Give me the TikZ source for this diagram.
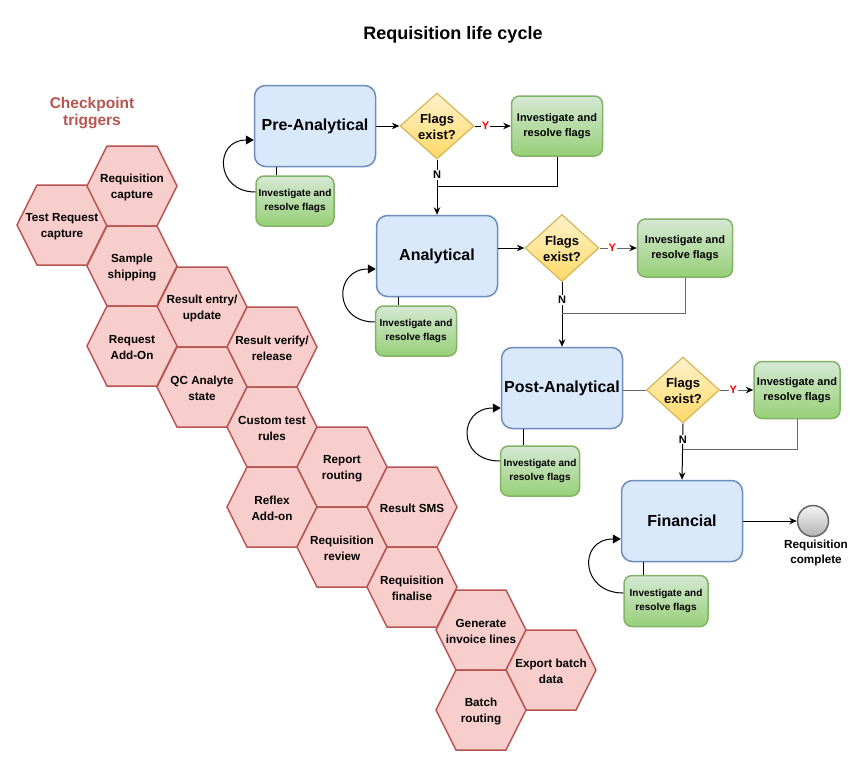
\documentclass[tikz,border=0pt]{standalone}
\usepackage{fontspec}
\setmainfont{Liberation Sans}
\usetikzlibrary{shapes.geometric,arrows.meta,calc}
\definecolor{hexfill}{HTML}{F8CECC}
\definecolor{hexline}{HTML}{B85450}
\definecolor{bluefill}{HTML}{DAE8FC}
\definecolor{blueline}{HTML}{6C8EBF}
\definecolor{greentop}{HTML}{D5E8D4}
\definecolor{greenbot}{HTML}{97D077}
\definecolor{greenline}{HTML}{82B366}
\definecolor{yeltop}{HTML}{FFF2CC}
\definecolor{yelbot}{HTML}{FFD966}
\definecolor{yelline}{HTML}{D6B656}
\definecolor{greytop}{HTML}{F5F5F5}
\definecolor{greybot}{HTML}{B3B3B3}
\definecolor{greyline}{HTML}{666666}
\newcommand{\hexcell}[4]{%
  \filldraw[hexshape] ({#2-45},{#3}) -- ({#2-25},{#3-40}) -- ({#2+25},{#3-40}) -- ({#2+45},{#3}) -- ({#2+25},{#3+40}) -- ({#2-25},{#3+40}) -- cycle;
  \node[hextext] (#1) at (#2,#3) {#4};}
\tikzset{
  hexshape/.style={fill=hexfill, draw=hexline, line width=1.5pt, line join=miter},
  hextext/.style={align=center, font=\fontsize{11.7}{15.5}\selectfont\bfseries, inner sep=0pt, yshift=-1.5pt},
  phasebox/.style={draw=blueline, fill=bluefill, rounded corners=11pt, line width=1.5pt, minimum width=121pt, minimum height=81pt, inner sep=0pt, font=\fontsize{16}{19}\selectfont\bfseries},
  fixbox/.style={draw=greenline, top color=greentop, bottom color=greenbot, rounded corners=8pt, line width=1.5pt, align=center, inner sep=0pt, font=\fontsize{11}{15}\selectfont\bfseries},
  fixsmall/.style={fixbox, font=\fontsize{10}{14}\selectfont\bfseries},
  dia/.style={diamond, draw=yelline, top color=yeltop, bottom color=yelbot, line width=1.2pt, inner sep=0pt, minimum width=74pt, minimum height=66pt},
  diatext/.style={font=\fontsize{13}{16}\selectfont\bfseries, align=center, inner sep=0pt, yshift=-1pt},
  conn/.style={line width=1pt, -{Stealth[length=7.5pt,width=6.5pt,black]}},
  plainline/.style={line width=1pt},
  loopst/.style={line width=1pt, -{Triangle[length=8pt,width=9pt]}},
  lab/.style={font=\fontsize{11}{13}\selectfont\bfseries, fill=white, inner sep=1pt},
}
\begin{document}
\begin{tikzpicture}[x=1pt,y=-1pt]
\useasboundingbox (0,0) rectangle (850,777);
\fill[white] (0,0) rectangle (850,777);

\node[font=\fontsize{18}{21}\selectfont\bfseries] (title) at (453,35) {Requisition life cycle};
\node[font=\fontsize{15.5}{17}\selectfont\bfseries, text=hexline, align=center] (cpt) at (92,113) {Checkpoint\\triggers};

% hexagons
\hexcell{trc}{62}{225}{Test Request\\capture}
\hexcell{rc}{132}{186}{Requisition\\capture}
\hexcell{ss}{132}{266}{Sample\\shipping}
\hexcell{re}{202}{307}{Result entry/\\update}
\hexcell{ra}{132}{346}{Request\\Add-On}
\hexcell{rv}{272}{347}{Result verify/\\release}
\hexcell{qc}{202}{387}{QC Analyte\\state}
\hexcell{ct}{272}{427}{Custom test\\rules}
\hexcell{rr}{342}{467}{Report\\routing}
\hexcell{rx}{272}{507}{Reflex\\Add-on}
\hexcell{sms}{412}{507}{Result SMS}
\hexcell{rqr}{342}{547}{Requisition\\review}
\hexcell{rf}{412}{587}{Requisition\\finalise}
\hexcell{gi}{481}{630}{Generate\\invoice lines}
\hexcell{eb}{551}{670}{Export batch\\data}
\hexcell{br}{481}{710}{Batch\\routing}

% phases
\node[phasebox] (pre) at (315,126) {Pre-Analytical};
\node[phasebox] (ana) at (437,256) {Analytical};
\node[phasebox] (post) at (562,388) {Post-Analytical};
\node[phasebox] (fin) at (682,521) {Financial};

% diamonds
\node[dia] (d1) at (437,126) {};
\node[diatext] (d1t) at (d1) {Flags\\exist?};
\node[dia, minimum height=67pt] (d2) at (562,248) {};
\node[diatext] (d2t) at (d2) {Flags\\exist?};
\node[dia, minimum width=73pt] (d3) at (683,390) {};
\node[diatext] (d3t) at (d3) {Flags\\exist?};

% green boxes
\node[fixbox, minimum width=91pt, minimum height=60pt] (g1) at (557,126) {Investigate and\\resolve flags};
\node[fixbox, minimum width=95pt, minimum height=58pt] (g2) at (685,248) {Investigate and\\resolve flags};
\node[fixbox, minimum width=86pt, minimum height=57pt] (g3) at (797,390) {Investigate and\\resolve flags};
\node[fixsmall, minimum width=78pt, minimum height=50pt] (l1) at (295,201) {Investigate and\\resolve flags};
\node[fixsmall, minimum width=81pt, minimum height=50pt] (l2) at (416,331) {Investigate and\\resolve flags};
\node[fixsmall, minimum width=79pt, minimum height=50pt] (l3) at (540,471) {Investigate and\\resolve flags};
\node[fixsmall, minimum width=84pt, minimum height=51pt] (l4) at (666,601) {Investigate and\\resolve flags};

% end
\node[circle, draw=greyline, top color=greytop, bottom color=greybot, line width=1.5pt, minimum size=31pt, inner sep=0pt] (endc) at (813,521) {};
\node[font=\fontsize{11.7}{14.5}\selectfont\bfseries, align=center] (endl) at (816,553) {Requisition\\complete};

% loops
\draw[loopst] ([yshift=9pt]l1.west) .. controls +(-40,0) and +(-40,0) .. ([yshift=-14pt]pre.west);
\draw[plainline] ([xshift=-19pt]l1.north) -- ([xshift=-39pt]pre.south);
\draw[loopst] ([yshift=9pt]l2.west) .. controls +(-42,0) and +(-42,0) .. ([yshift=-13pt]ana.west);
\draw[plainline] ([xshift=-18pt]l2.north) -- ([xshift=-39pt]ana.south);
\draw[loopst] ([yshift=10pt]l3.west) .. controls +(-43,0) and +(-43,0) .. ([yshift=-20pt]post.west);
\draw[plainline] ([xshift=-17pt]l3.north) -- ([xshift=-39pt]post.south);
\draw[loopst] ([yshift=8pt]l4.west) .. controls +(-43,0) and +(-43,0) .. ([yshift=-18pt]fin.west);
\draw[plainline] ([xshift=-23pt]l4.north) -- ([xshift=-39pt]fin.south);

% pre-analytical flow
\draw[conn] (pre) -- (d1);
\draw[conn] (d1) -- node[lab, text=red, pos=0.3] {Y} (g1);
\draw[conn] (d1.south) -- node[lab, pos=0.28] {N} (ana.north);
\draw[plainline] (g1.south) |- ($(d1.south)+(0,27)$);

% analytical flow
\draw[conn] (ana.east |- d2.west) -- (d2.west);
\draw[conn, draw=greyline] (d2) -- node[lab, text=red, pos=0.34] {Y} (g2);
\draw[conn] (d2.south) -- node[lab, pos=0.28] {N} (post.north);
\draw[plainline, draw=greyline] (g2.south) |- ($(d2.south)+(0,31)$);

% post-analytical flow
\draw[plainline, draw=greyline] (post.east |- d3.west) -- (d3.west);
\draw[conn, draw=greyline] (d3) -- node[lab, text=red, pos=0.4] {Y} (g3);
\draw[conn] (d3.south) -- node[lab, pos=0.28] {N} (fin.north);
\draw[plainline, draw=greyline] (g3.south) |- ($(d3.south)+(0,26)$);

% financial
\draw[conn] (fin) -- (endc);
\end{tikzpicture}
\end{document}
